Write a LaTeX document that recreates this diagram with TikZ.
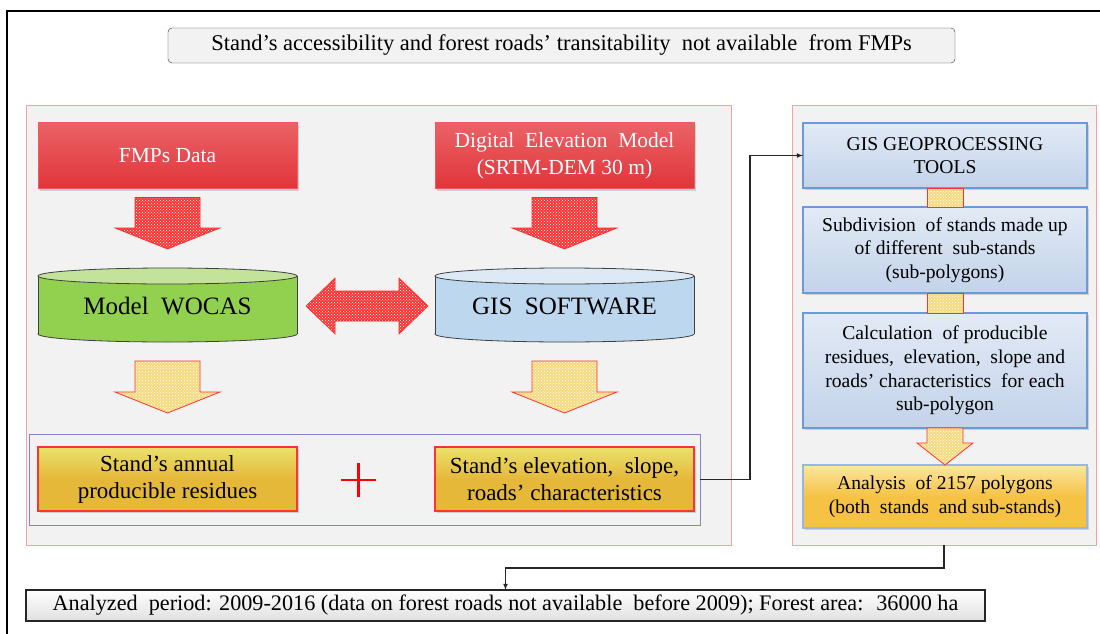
\documentclass[tikz,border=0pt]{standalone}
\usepackage{fontspec}
\setmainfont{Liberation Serif}
\usetikzlibrary{positioning,patterns,shadows}

\definecolor{panelgray}{HTML}{F2F2F2}
\definecolor{panelline}{HTML}{F4A3A3}
\definecolor{boxred}{HTML}{E0353A}
\definecolor{boxredtop}{HTML}{EA6266}
\definecolor{boxredline}{HTML}{F05A5A}
\definecolor{cylgreen}{HTML}{92D050}
\definecolor{cyltopgreen}{HTML}{C3E39A}
\definecolor{cylblue}{HTML}{BDD7EE}
\definecolor{cyltopblue}{HTML}{DDEAF6}
\definecolor{boxorange}{HTML}{E6B83A}
\definecolor{boxyellow}{HTML}{EAE26C}
\definecolor{boxblue}{HTML}{C3D3EA}
\definecolor{boxbluetop}{HTML}{E2EAF5}
\definecolor{boxblueline}{HTML}{6A9AD8}
\definecolor{boxgold}{HTML}{F5C244}
\definecolor{boxgoldtop}{HTML}{FCE6A0}
\definecolor{groupline}{HTML}{8585BD}
\definecolor{arrowyellow}{HTML}{F6DA80}

\begin{document}
\begin{tikzpicture}[x=1pt,y=-1pt,
    panel/.style={draw=panelline,fill=panelgray,line width=0.9pt,inner sep=0pt,outer sep=0pt},
    headbox/.style={draw=black!80,fill=panelgray,rounded corners=4pt,minimum width=787,minimum height=35,inner sep=0pt,font=\fontsize{22.5}{26}\selectfont},
    redbox/.style={draw=boxredline,line width=1pt,top color=boxredtop,bottom color=boxred,text=white,minimum width=259,minimum height=66,inner sep=0pt,outer sep=0pt,align=center,font=\fontsize{21.5}{27}\selectfont,drop shadow={opacity=0.3,shadow xshift=2pt,shadow yshift=-2pt}},
    cyltext/.style={minimum width=259,minimum height=74,inner sep=0pt,outer sep=0pt,font=\fontsize{25}{30}\selectfont},
    cylline/.style={draw=black!75,line width=0.8pt},
    orangebox/.style={draw=red!80,line width=1.2pt,top color=boxyellow,bottom color=boxorange,middle color=boxorange,minimum width=259,minimum height=64,inner sep=0pt,outer sep=0pt,align=center,font=\fontsize{23}{27}\selectfont,drop shadow={opacity=0.3,shadow xshift=2pt,shadow yshift=-2pt}},
    groupbox/.style={draw=groupline,line width=0.8pt,minimum width=671,minimum height=91,inner sep=0pt,outer sep=0pt},
    bluebox/.style={draw=boxblueline,line width=1.2pt,top color=boxbluetop,bottom color=boxblue,minimum width=284,inner sep=0pt,outer sep=0pt,align=center,font=\fontsize{19.6}{23.6}\selectfont,drop shadow={opacity=0.3,shadow xshift=2pt,shadow yshift=-2pt}},
    goldbox/.style={bluebox,draw=boxblueline!70,top color=boxgoldtop,bottom color=boxgold,middle color=boxgold},
    footbox/.style={draw=black!85,line width=1.2pt,top color=white,bottom color=black!12,minimum width=959,minimum height=31,inner sep=0pt,outer sep=0pt,font=\fontsize{22.2}{26}\selectfont},
    redblock/.style={draw=red!85,line width=0.6pt,preaction={fill=red!80},pattern=crosshatch dots,pattern color=white},
    yellowblock/.style={draw=red!80,line width=0.8pt,preaction={fill=arrowyellow},pattern=crosshatch dots,pattern color=white},
    link/.style={-latex,line width=1.1pt,black!85}]

  \useasboundingbox (0,0) rectangle (1100,634);
  \draw[line width=2pt] (7,634) -- (7,11) -- (1100,11);

  \node[headbox] (head) at (561.5,45.5) {Stand’s accessibility and forest roads’ transitability~ not available~ from FMPs\hspace{30pt}};

  % the two panels
  \node[panel,minimum width=705,minimum height=440] (leftpanel) at (378.5,325) {};
  \node[panel,minimum width=304,minimum height=440] (rightpanel) at (944,325) {};

  \node[redbox] (fmp) at (167.5,155.5) {FMPs Data};
  \node[redbox,right=138pt of fmp] (dem) {Digital~ Elevation~ Model\\(SRTM-DEM 30 m)};

  % cylinders
  \foreach \cx/\body/\lid in {167.5/cylgreen/cyltopgreen, 564.5/cylblue/cyltopblue} {
    \draw[cylline,fill=\body] (\cx,334) ellipse [x radius=129.5,y radius=8];
    \fill[\body] (\cx-129.5,276) rectangle (\cx+129.5,334);
    \draw[cylline] (\cx-129.5,276) -- (\cx-129.5,334) (\cx+129.5,276) -- (\cx+129.5,334);
    \draw[cylline,fill=\lid] (\cx,276) ellipse [x radius=129.5,y radius=8];
  }
  \node[cyltext] (wocas) at (167.5,306) {Model~ WOCAS};
  \node[cyltext,right=138pt of wocas] (gis) {GIS~ SOFTWARE};

  \node[groupbox] (group) at (364.5,479.5) {};
  \node[orangebox] (annual) at (167.5,479) {Stand’s annual\\producible residues};
  \node[orangebox,right=138pt of annual] (elev) {Stand’s elevation,~ slope,\\roads’ characteristics};
  \draw[red,line width=2.2pt] (341,480) -- (376,480) (358.5,463) -- (358.5,497);

  % block arrows down
  \foreach \from/\to/\kind/\ga/\gb in {fmp/wocas/redblock/9/20, dem/gis/redblock/9/20,
                                       wocas/annual/yellowblock/18/34, gis/elev/yellowblock/18/34}
    \draw[\kind] ([xshift=-32.5pt,yshift=-\ga pt]\from.south) -- ([xshift=32.5pt,yshift=-\ga pt]\from.south)
      -- ([xshift=32.5pt,yshift=\gb pt+21pt]\to.north) -- ([xshift=52.5pt,yshift=\gb pt+21pt]\to.north)
      -- ([yshift=\gb pt]\to.north) -- ([xshift=-52.5pt,yshift=\gb pt+21pt]\to.north)
      -- ([xshift=-32.5pt,yshift=\gb pt+21pt]\to.north) -- cycle;

  % two-way arrow
  \draw[redblock] ([xshift=9pt]wocas.east) -- ([xshift=38pt,yshift=28pt]wocas.east)
    -- ([xshift=38pt,yshift=15pt]wocas.east) -- ([xshift=-36pt,yshift=15pt]gis.west)
    -- ([xshift=-36pt,yshift=28pt]gis.west) -- ([xshift=-7pt]gis.west)
    -- ([xshift=-36pt,yshift=-28pt]gis.west) -- ([xshift=-36pt,yshift=-15pt]gis.west)
    -- ([xshift=38pt,yshift=-15pt]wocas.east) -- ([xshift=38pt,yshift=-28pt]wocas.east) -- cycle;

  % right column
  \node[bluebox,minimum height=65] (geo) at (945,155.5) {GIS GEOPROCESSING\\TOOLS};
  \node[bluebox,minimum height=86,below=19pt of geo] (subdiv) {Subdivision~ of stands made up\\of different~ sub-stands\\(sub-polygons)};
  \node[bluebox,minimum height=115,below=20pt of subdiv] (calc) {Calculation~ of producible\\residues,~ elevation,~ slope and\\roads’ characteristics~ for each\\sub-polygon};
  \node[goldbox,minimum height=63,below=37pt of calc] (analysis) {Analysis~ of 2157 polygons\\(both~ stands~ and sub-stands)};
  \draw[yellowblock] ([xshift=-18pt]geo.south) rectangle ([xshift=18pt]subdiv.north);
  \draw[yellowblock] ([xshift=-18pt]subdiv.south) rectangle ([xshift=18pt]calc.north);
  \draw[yellowblock] ([xshift=-18pt]calc.south) -- ([xshift=18pt]calc.south)
    -- ([xshift=18pt,yshift=22pt]analysis.north) -- ([xshift=28pt,yshift=22pt]analysis.north)
    -- (analysis.north) -- ([xshift=-28pt,yshift=22pt]analysis.north)
    -- ([xshift=-18pt,yshift=22pt]analysis.north) -- cycle;

  \node[footbox] (period) at (505.5,605.5) {Analyzed~ period: 2009-2016 (data on forest roads not available~ before 2009); Forest area:~ 36000 ha};

  \draw[link] (group.east) -- ++(50,0) |- (geo.west);
  \draw[link] (rightpanel.south) -- ++(0,23) -| (period.north);
\end{tikzpicture}
\end{document}
